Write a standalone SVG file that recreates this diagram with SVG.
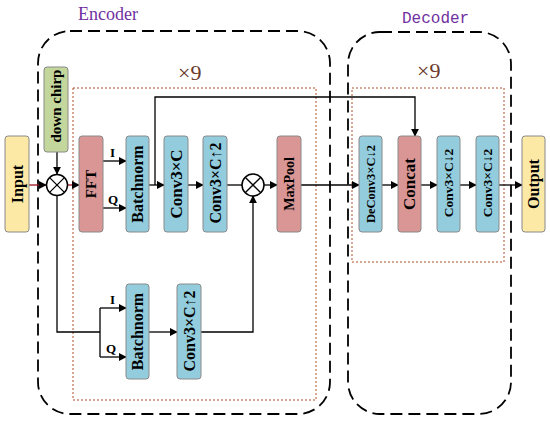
<svg xmlns="http://www.w3.org/2000/svg" width="550" height="421" viewBox="0 0 550 421">
<defs>
<marker id="ah" viewBox="0 0 10 10" refX="9" refY="5" markerWidth="8" markerHeight="8" markerUnits="userSpaceOnUse" orient="auto"><path d="M0,0 L10,5 L0,10 z" fill="#000"/></marker>
</defs>
<style>
.box{stroke:#8a8a8a;stroke-width:1}
.y{fill:#fde9a6}.g{fill:#c3d69b}.r{fill:#d99694}.b{fill:#93cddd}
.t{font-family:"Liberation Serif",serif;font-weight:bold;fill:#000;text-anchor:middle;dominant-baseline:central}
.ln{fill:none;stroke:#000;stroke-width:1.3}
.rl{fill:none;stroke:#a01020;stroke-width:1.3}
.dash{fill:none;stroke:#000;stroke-width:1.8;stroke-dasharray:12 6}
.dot{fill:none;stroke:#b0502a;stroke-width:1;stroke-dasharray:2 2}
.lbl{font-family:"Liberation Serif",serif;font-size:13px;font-weight:bold;fill:#000}
.x9{font-family:"Liberation Serif",serif;font-size:22px;fill:#6b3a2a}
</style>
<rect width="550" height="421" fill="#fff"/>
<rect class="dash" x="38" y="31" width="292" height="383" rx="32"/>
<rect class="dash" x="348" y="32" width="163" height="382" rx="32"/>
<rect class="dot" x="73" y="88" width="243" height="312"/>
<rect class="dot" x="352" y="88" width="152" height="174"/>
<text x="78" y="20" font-family="Liberation Serif,serif" font-size="18" fill="#7030a0">Encoder</text>
<text x="402" y="23" font-family="Liberation Mono,monospace" font-size="16" fill="#7030a0">Decoder</text>
<text class="x9" x="178" y="80">×9</text>
<text class="x9" x="417" y="78">×9</text>
<g id="connectors">
<line class="rl" x1="29" y1="185" x2="46" y2="185" marker-end="url(#ah)"/>
<line class="rl" x1="67" y1="185" x2="79" y2="185" marker-end="url(#ah)"/>
<line class="ln" x1="57" y1="152" x2="57" y2="174" marker-end="url(#ah)"/>
<line class="ln" x1="103" y1="161" x2="126" y2="161" marker-end="url(#ah)"/>
<line class="ln" x1="103" y1="208" x2="126" y2="208" marker-end="url(#ah)"/>
<line class="ln" x1="149" y1="185" x2="164" y2="185" marker-end="url(#ah)"/>
<polyline class="ln" points="155,185 155,97 415,97 415,136" marker-end="url(#ah)"/>
<line class="ln" x1="188" y1="185" x2="203" y2="185" marker-end="url(#ah)"/>
<line class="ln" x1="227" y1="185" x2="242" y2="185"/>
<line class="ln" x1="264" y1="185" x2="277" y2="185" marker-end="url(#ah)"/>
<line class="ln" x1="301" y1="185" x2="359" y2="185" marker-end="url(#ah)"/>
<line class="ln" x1="382" y1="185" x2="398" y2="185" marker-end="url(#ah)"/>
<line class="ln" x1="421" y1="185" x2="437" y2="185" marker-end="url(#ah)"/>
<line class="ln" x1="460" y1="185" x2="476" y2="185" marker-end="url(#ah)"/>
<line class="ln" x1="499" y1="185" x2="522" y2="185" marker-end="url(#ah)"/>
<polyline class="ln" points="57,196 57,332 100,332"/>
<line class="ln" x1="100" y1="308" x2="100" y2="357"/>
<line class="ln" x1="100" y1="308" x2="126" y2="308" marker-end="url(#ah)"/>
<line class="ln" x1="100" y1="357" x2="126" y2="357" marker-end="url(#ah)"/>
<line class="ln" x1="149" y1="332" x2="177" y2="332" marker-end="url(#ah)"/>
<polyline class="ln" points="201,332 253,332 253,196" marker-end="url(#ah)"/>
<text class="lbl" x="110" y="157">I</text>
<text class="lbl" x="108" y="204">Q</text>
<text class="lbl" x="110" y="304">I</text>
<text class="lbl" x="106" y="353">Q</text>
</g>
<g id="input"><rect class="box y" x="5" y="136" width="24" height="96" rx="3"/><text class="t" font-size="16" transform="translate(17,184) rotate(-90)">Input</text></g>
<g id="downchirp"><rect class="box g" x="44" y="67" width="24" height="85" rx="3"/><text class="t" font-size="15" transform="translate(56,106) rotate(-90)">down chirp</text></g>
<g id="mix1"><circle cx="57" cy="185" r="10.5" fill="#fff" stroke="#000" stroke-width="1.5"/><path d="M49.6,177.6 L64.4,192.4 M64.4,177.6 L49.6,192.4" stroke="#000" stroke-width="1.3"/></g>
<g id="fft"><rect class="box r" x="79" y="136" width="24" height="96" rx="3"/><text class="t" font-size="15" transform="translate(91,184) rotate(-90)">FFT</text></g>
<g id="bn1"><rect class="box b" x="126" y="136" width="23" height="96" rx="3"/><text class="t" font-size="16" transform="translate(137.5,184) rotate(-90)">Batchnorm</text></g>
<g id="conv1"><rect class="box b" x="164" y="136" width="24" height="96" rx="3"/><text class="t" font-size="17" transform="translate(176,184) rotate(-90)">Conv3×C</text></g>
<g id="conv2"><rect class="box b" x="203" y="136" width="24" height="96" rx="3"/><text class="t" font-size="16" transform="translate(215,183) rotate(-90)">Conv3×C↑2</text></g>
<g id="mix2"><circle cx="253" cy="185" r="11" fill="#fff" stroke="#000" stroke-width="1.5"/><path d="M245.2,177.2 L260.8,192.8 M260.8,177.2 L245.2,192.8" stroke="#000" stroke-width="1.3"/></g>
<g id="maxpool"><rect class="box r" x="277" y="136" width="24" height="96" rx="3"/><text class="t" font-size="14" transform="translate(289,184) rotate(-90)">MaxPool</text></g>
<g id="bn2"><rect class="box b" x="126" y="284" width="23" height="95" rx="3"/><text class="t" font-size="16" transform="translate(137.5,331.5) rotate(-90)">Batchnorm</text></g>
<g id="conv3"><rect class="box b" x="177" y="284" width="24" height="95" rx="3"/><text class="t" font-size="16" transform="translate(189,331) rotate(-90)">Conv3×C↑2</text></g>
<g id="deconv"><rect class="box b" x="359" y="136" width="23" height="96" rx="3"/><text class="t" font-size="12.5" transform="translate(370.5,184) rotate(-90)">DeConv3×C↓2</text></g>
<g id="concat"><rect class="box r" x="398" y="136" width="23" height="96" rx="3"/><text class="t" font-size="17" transform="translate(409.5,184) rotate(-90)">Concat</text></g>
<g id="conv4"><rect class="box b" x="437" y="136" width="23" height="96" rx="3"/><text class="t" font-size="13.5" transform="translate(448.5,183) rotate(-90)">Conv3×C↓2</text></g>
<g id="conv5"><rect class="box b" x="476" y="136" width="23" height="96" rx="3"/><text class="t" font-size="13.5" transform="translate(487.5,183) rotate(-90)">Conv3×C↓2</text></g>
<g id="output"><rect class="box y" x="522" y="136" width="23" height="96" rx="3"/><text class="t" font-size="16" transform="translate(533.5,184) rotate(-90)">Output</text></g>
</svg>
